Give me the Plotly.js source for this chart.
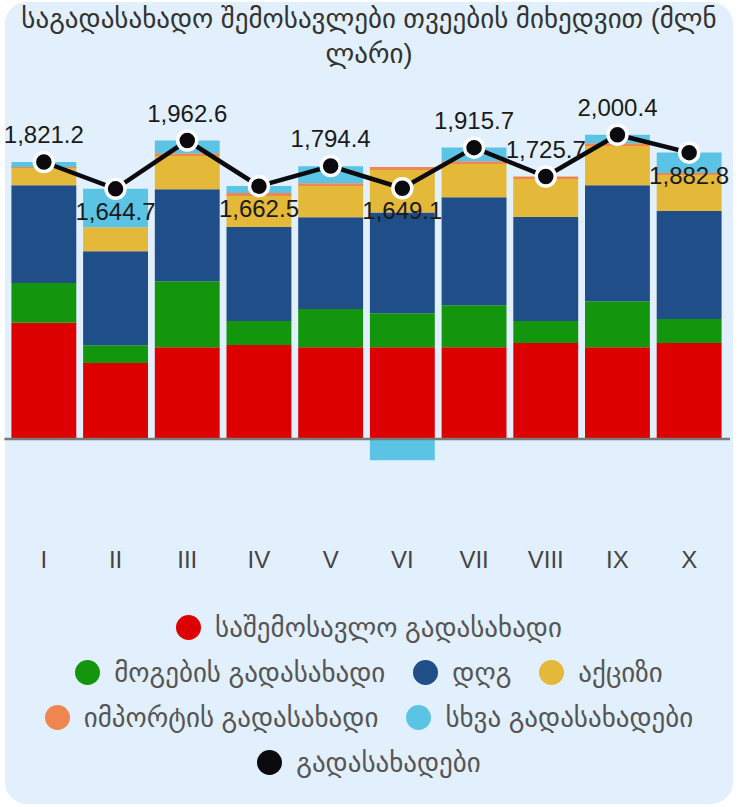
<!DOCTYPE html>
<html>
<head>
<meta charset="utf-8">
<script src="https://cdn.plot.ly/plotly-3.0.1.min.js"></script>
<style>
  html, body { margin:0; padding:0; background:#ffffff; width:738px; height:807px; overflow:hidden; }
  #box { position:absolute; left:5px; top:2px; width:728px; height:802px; border-radius:22px; background:#E2EFFC; }
  #chart { position:absolute; left:0; top:0; width:738px; height:600px; }
  #legend { position:absolute; left:0; top:605px; width:738px; font-family:"Liberation Sans", Arial, "DejaVu Sans", sans-serif; font-size:27px; color:#555555; }
  .row { display:flex; justify-content:center; align-items:center; height:45px; }
  .item { display:flex; align-items:center; margin:0 14px; white-space:nowrap; }
  .dot { width:25px; height:25px; border-radius:50%; margin-right:14px; flex:none; }
</style>
</head>
<body>
<div id="box"></div>
<div id="chart"></div>
<div id="legend"></div>
<script>
const months = ["I","II","III","IV","V","VI","VII","VIII","IX","X"];
const incomeTax = [764, 499, 604, 618, 604, 604, 604, 631, 604, 631];
const profitTax = [261, 118, 434, 158, 250, 223, 276, 145, 302, 158];
const vat       = [644, 618, 604, 618, 604, 662, 710, 683, 762, 710];
const excise    = [118, 158, 223, 210, 210, 280, 223, 250, 263, 237];
const importTax = [2, 0, 13, 13, 13, 20, 13, 17, 13, 13];
const otherTax  = [32, 252, 85, 46, 113, -140, 90, 0, 56, 134];
const totalTax  = [1821.2, 1644.7, 1962.6, 1662.5, 1794.4, 1649.1, 1915.7, 1725.7, 2000.4, 1882.8];
const totalLabelPos = ["top center","bottom center","top center","bottom center","top center","bottom center","top center","top center","top center","bottom center"];

const seriesNames = ["საშემოსავლო გადასახადი","მოგების გადასახადი","დღგ","აქციზი","იმპორტის გადასახადი","სხვა გადასახადები","გადასახადები"];
const seriesColors = ["#DD0000","#13960E","#1F4E89","#E4B838","#EF8650","#5BC4E5","#0B0B0F"];
const legendRows = [[0],[1,2,3],[4,5],[6]];

const barData = [incomeTax, profitTax, vat, excise, importTax, otherTax];
const traces = barData.map((vals, i) => ({
  type: "bar",
  x: months,
  y: vals,
  name: seriesNames[i],
  marker: { color: seriesColors[i] },
  hoverinfo: "x+y+name"
}));
traces.push({
  type: "scatter",
  mode: "lines+markers+text",
  x: months,
  y: totalTax,
  name: seriesNames[6],
  line: { color: "#0B0B0F", width: 4.5 },
  marker: { size: 19, color: "#0B0B0F", line: { color: "#ffffff", width: 3.5 } },
  text: totalTax.map(v => v.toLocaleString("en-US", { minimumFractionDigits: 1, maximumFractionDigits: 1 })),
  textposition: totalLabelPos,
  textfont: { family: "Liberation Sans, Arial, sans-serif", size: 24, color: "#1a1a1a" },
  cliponaxis: false
});

const layout = {
  width: 738,
  height: 600,
  paper_bgcolor: "rgba(0,0,0,0)",
  plot_bgcolor: "rgba(0,0,0,0)",
  margin: { l: 8, r: 13, t: 95, b: 57 },
  barmode: "relative",
  bargap: 0.095,
  showlegend: false,
  title: {
    text: "საგადასახადო შემოსავლები თვეების მიხედვით (მლნ<br>ლარი)",
    x: 0.5,
    xanchor: "center",
    xref: "container",
    yref: "container",
    y: 0.953,
    yanchor: "top",
    font: { family: "Liberation Sans, Arial, DejaVu Sans, sans-serif", size: 27, color: "#333333" }
  },
  xaxis: {
    type: "category",
    range: [-0.5, 9.5],
    autorange: false,
    showgrid: false,
    zeroline: false,
    showline: false,
    ticks: "",
    tickfont: { family: "Liberation Sans, Arial, sans-serif", size: 24, color: "#444444" }
  },
  yaxis: {
    range: [-683.8, 2261.8],
    visible: false,
    showgrid: false,
    zeroline: false
  },
  shapes: [{
    type: "line", xref: "paper", yref: "y",
    x0: -0.005, x1: 1.007, y0: 0, y1: 0,
    line: { color: "#7A7A7A", width: 2.5 },
    layer: "above"
  }]
};

Plotly.newPlot("chart", traces, layout, { displayModeBar: false });

const legend = document.getElementById("legend");
legendRows.forEach(row => {
  const r = document.createElement("div");
  r.className = "row";
  row.forEach(i => {
    const it = document.createElement("div");
    it.className = "item";
    const d = document.createElement("span");
    d.className = "dot";
    d.style.background = seriesColors[i];
    const t = document.createElement("span");
    t.textContent = seriesNames[i];
    it.appendChild(d); it.appendChild(t);
    r.appendChild(it);
  });
  legend.appendChild(r);
});
</script>
</body>
</html>
